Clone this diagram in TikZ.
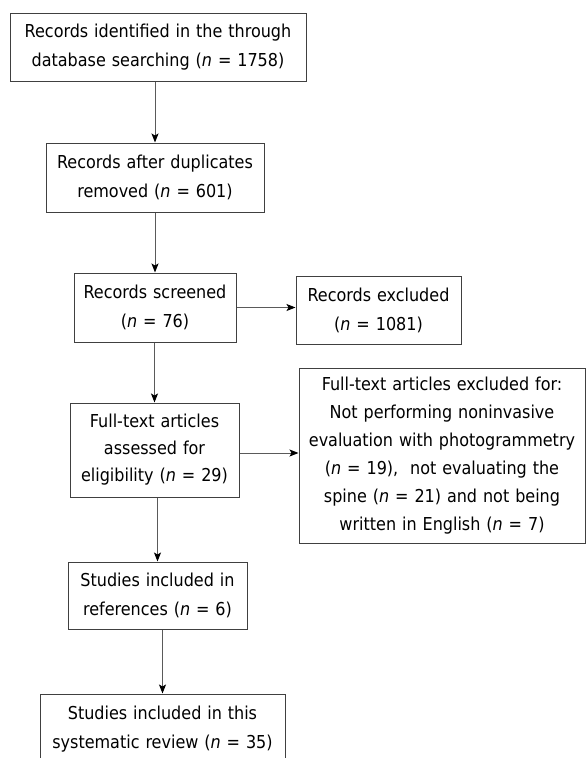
\documentclass[tikz,border=0pt]{standalone}
\usepackage{fontspec}
\setmainfont{DejaVu Sans Condensed}
\usetikzlibrary{arrows.meta,calc}
\definecolor{boxgray}{HTML}{404040}
\definecolor{linegray}{HTML}{5a5a5a}
\begin{document}
\begin{tikzpicture}[x=1pt,y=-1pt,
  box/.style={draw=boxgray,line width=1pt,inner sep=0pt,align=center,
    font=\fontsize{17.8}{29}\selectfont},
  conn/.style={draw=linegray,line width=1pt,-{Stealth[length=9pt,width=7pt,inset=2pt,color=black]}}]
\useasboundingbox (0,0) rectangle (586,758);
\clip (0,0) rectangle (586,758);
\fill[white] (0,0) rectangle (586,758);
\node[box,minimum width=296pt,minimum height=68pt,text width=292pt] (b1) at (158,47)
  {Records identified in the through\\database searching (\textit{n} = 1758)};
\node[box,minimum width=218pt,minimum height=69pt,text width=214pt] (b2) at (155,177.5)
  {Records after duplicates\\removed (\textit{n} = 601)};
\node[box,minimum width=162pt,minimum height=69pt,text width=158pt] (b3) at (155,307.5)
  {Records screened\\(\textit{n} = 76)};
\node[box,minimum width=165pt,minimum height=68pt,text width=161pt] (x1) at (378.5,310)
  {Records excluded\\(\textit{n} = 1081)};
\node[box,minimum width=169pt,minimum height=94pt,text width=165pt,font=\fontsize{17.8}{27}\selectfont] (b4) at (154.5,450)
  {Full-text articles\\assessed for\\eligibility (\textit{n} = 29)};
\node[box,minimum width=286pt,minimum height=175pt,text width=282pt,font=\fontsize{17.8}{28}\selectfont] (x2) at (442,455.5)
  {Full-text articles excluded for:\\Not performing noninvasive\\evaluation with photogrammetry\\(\textit{n} = 19),~ not evaluating the\\spine (\textit{n} = 21) and not being\\written in English (\textit{n} = 7)};
\node[box,minimum width=179pt,minimum height=67pt,text width=175pt] (b5) at (157.5,595.5)
  {Studies included in\\references (\textit{n} = 6)};
\node[box,minimum width=245pt,minimum height=70pt,text width=241pt] (b6) at (162.5,729)
  {Studies included in this\\systematic review (\textit{n} = 35)};
\draw[conn] (b2.north |- b1.south) -- (b2.north);
\draw[conn] (b3.north |- b2.south) -- (b3.north);
\draw[conn] (b4.north |- b3.south) -- (b4.north);
\draw[conn] (b3.east) -- (b3.east -| x1.west);
\draw[conn] ($(b4.east)+(0,3)$) -- ($(b4.east -| x2.west)+(0,3)$);
\draw[conn] (b5.north |- b4.south) -- (b5.north);
\draw[conn] (b6.north |- b5.south) -- (b6.north);
\end{tikzpicture}
\end{document}
